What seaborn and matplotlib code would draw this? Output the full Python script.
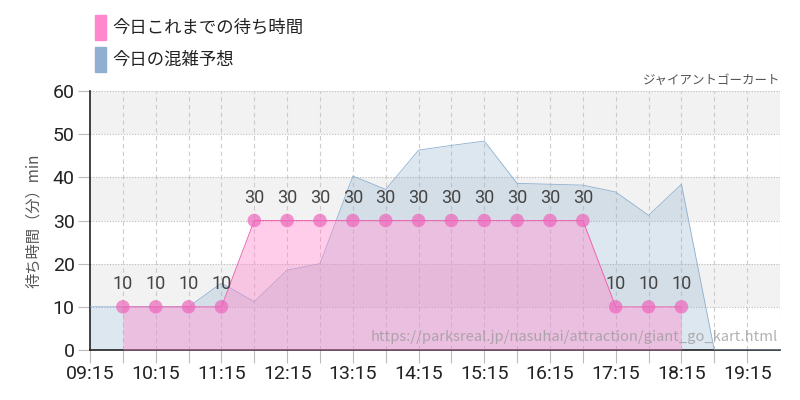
import numpy as np
import pandas as pd
import matplotlib
matplotlib.use("Agg")
import matplotlib.pyplot as plt
import seaborn as sns

# data (minutes of the day)
blue_times = ["09:15", "09:45", "10:15", "10:45", "11:15", "11:45", "12:15", "12:45",
              "13:15", "13:45", "14:15", "14:45", "15:15", "15:45", "16:15", "16:45",
              "17:15", "17:45", "18:15", "18:45", "19:15", "19:45"]
blue_wait = [10, 10, 10, 10, 15.5, 11.2, 18.5, 20, 40.3, 37.2, 46.3, 47.4, 48.4,
             38.6, 38.4, 38.2, 36.6, 31.2, 38.4, 0, 0, 0]

pink_times = ["09:45", "10:15", "10:45", "11:15", "11:45", "12:15", "12:45", "13:15",
              "13:45", "14:15", "14:45", "15:15", "15:45", "16:15", "16:45", "17:15",
              "17:45", "18:15"]
pink_wait = [10, 10, 10, 10, 30, 30, 30, 30, 30, 30, 30, 30, 30, 30, 30, 10, 10, 10]

tick_labels = ["09:15", "10:15", "11:15", "12:15", "13:15", "14:15",
               "15:15", "16:15", "17:15", "18:15", "19:15"]


def to_min(t):
    h, m = t.split(":")
    return int(h) * 60 + int(m)


blue = pd.DataFrame({"t": [to_min(t) for t in blue_times], "wait": blue_wait})
pink = pd.DataFrame({"t": [to_min(t) for t in pink_times], "wait": pink_wait})

sns.set_theme(style="white")
plt.rcParams["font.family"] = ["Noto Sans CJK JP", "DejaVu Sans"]

BLUE = "#8fb0d0"
PINK = "#ff88cc"
num_font = ["Liberation Sans Narrow", "Roboto", "DejaVu Sans"]

fig = plt.figure(figsize=(8, 4), dpi=100)
ax = fig.add_axes([0.1125, 0.125, 0.8625, 0.6475])

x0, x1 = to_min("09:15"), to_min("19:45")
ax.set_xlim(x0, x1)
ax.set_ylim(0, 60)

# alternating bands
for lo in (10, 30, 50):
    ax.axhspan(lo, lo + 10, color="#f2f2f2", zorder=0, lw=0)

# grid
for y in range(10, 61, 10):
    ax.axhline(y, color="#bbbbbb", lw=0.8, ls=(0, (1, 1.5)), zorder=1)
for t in range(x0 + 30, x1 + 1, 30):
    ax.axvline(t, color="#cccccc", lw=0.8, ls=(0, (4, 3)), zorder=1)

# forecast
ax.fill_between(blue["t"], blue["wait"], color=BLUE, alpha=0.3, lw=0, zorder=2)
sns.lineplot(data=blue, x="t", y="wait", ax=ax, color=BLUE, lw=0.6, zorder=3)

# actual
ax.fill_between(pink["t"], pink["wait"], color=PINK, alpha=0.42, lw=0, zorder=4)
sns.lineplot(data=pink, x="t", y="wait", ax=ax, color="#ee66b0", lw=0.7, zorder=5)
sns.scatterplot(data=pink, x="t", y="wait", ax=ax, color="#ee66bb", alpha=0.7,
                s=95, edgecolor="none", zorder=6)
for t, w in zip(pink["t"], pink["wait"]):
    ax.annotate(str(w), (t, w), xytext=(0, 10), textcoords="offset points",
                ha="center", va="bottom", fontsize=13, color="#444444",
                family=num_font, zorder=7)

# axes
ax.set_xticks([to_min(t) for t in tick_labels])
ax.set_xticklabels(tick_labels, family=num_font, fontsize=14, color="#222222")
ax.set_xticks(list(range(x0 + 30, x1, 60)), minor=True)
ax.set_yticks(range(0, 61, 10))
ax.set_yticklabels([str(v) for v in range(0, 61, 10)], family=num_font,
                   fontsize=14, color="#222222")
ax.tick_params(axis="both", which="both", length=9, color="#bbbbbb",
               bottom=True, left=True, width=0.8, pad=2)
ax.set_xlabel("")
ax.set_ylabel("待ち時間（分）min", fontsize=11, color="#555555", labelpad=8)
for s in ("top", "right"):
    ax.spines[s].set_visible(False)
for s in ("left", "bottom"):
    ax.spines[s].set_color("#222222")
    ax.spines[s].set_linewidth(1.2)

ax.text(1.0, 1.015, "ジャイアントゴーカート", transform=ax.transAxes, ha="right",
        va="bottom", fontsize=9, color="#555555")
ax.text(0.997, 0.025, "https://parksreal.jp/nasuhai/attraction/giant_go_kart.html",
        transform=ax.transAxes, ha="right", va="bottom", fontsize=10.6,
        color="#999999", alpha=0.75, zorder=8)

# legend
fig.patches.append(plt.Rectangle((95 / 800, 1 - 40 / 400), 11 / 800, 25 / 400,
                                 transform=fig.transFigure, color=PINK))
fig.patches.append(plt.Rectangle((95 / 800, 1 - 72 / 400), 11 / 800, 25 / 400,
                                 transform=fig.transFigure, color=BLUE))
fig.text(112 / 800, 1 - 28 / 400, "今日これまでの待ち時間", fontsize=12.5,
         color="#222222", va="center")
fig.text(112 / 800, 1 - 60 / 400, "今日の混雑予想", fontsize=12.5,
         color="#222222", va="center")

fig.savefig("out.png", dpi=100)
